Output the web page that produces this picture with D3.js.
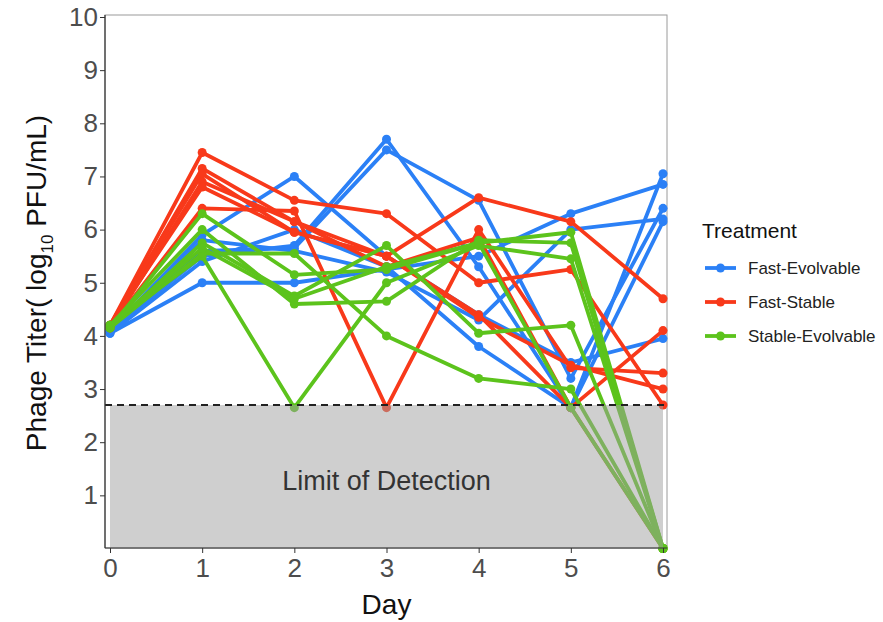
<!DOCTYPE html>
<html>
<head>
<meta charset="utf-8">
<script src="https://cdn.jsdelivr.net/npm/d3@7"></script>
<style>
  body { margin: 0; background: #fff; }
  text { font-family: "Liberation Sans", Arial, sans-serif; }
</style>
</head>
<body>
<div class="chart"></div>
<script>
// days on x axis
var days = [0, 1, 2, 3, 4, 5, 6];
var treatments = ["Fast-Evolvable", "Fast-Stable", "Stable-Evolvable"];
var colors = ["#2B80F6", "#F8391A", "#5CC31C"];

// titers per replicate (log10 PFU/mL), 0 = below detection
var fastEvolvable = [
    [4.05, 5.0, 5.0, 5.25, 5.5, 6.3, 6.85],
    [4.1, 5.9, 7.0, 5.5, 4.4, 3.5, 3.95],
    [4.1, 5.5, 5.7, 7.7, 5.3, 2.65, 7.05],
    [4.15, 5.6, 5.65, 7.5, 6.55, 3.2, 6.4],
    [4.1, 5.8, 5.6, 5.2, 4.3, 6.0, 6.2],
    [4.05, 5.4, 6.0, 5.3, 3.8, 2.65, 6.15]
];
var fastStable = [
    [4.2, 7.45, 6.55, 6.3, 5.0, 5.25, 2.7],
    [4.15, 6.4, 6.35, 2.65, 6.0, 3.4, 3.3],
    [4.2, 7.15, 6.15, 5.5, 6.6, 6.15, 4.7],
    [4.2, 7.05, 5.95, 5.5, 4.4, 2.65, 4.1],
    [4.15, 6.9, 6.15, 5.3, 5.85, 2.65, 0],
    [4.2, 6.8, 5.95, 5.5, 4.35, 3.45, 3.0]
];
var stableEvolvable = [
    [4.15, 6.3, 5.15, 5.25, 5.75, 5.95, 0],
    [4.2, 6.0, 4.6, 4.65, 5.8, 5.75, 0],
    [4.15, 5.75, 4.75, 5.7, 4.05, 4.2, 0],
    [4.2, 5.5, 2.65, 5.0, 5.7, 5.45, 0],
    [4.15, 5.55, 5.55, 4.0, 3.2, 3.0, 0],
    [4.2, 5.65, 4.7, 5.3, 5.75, 2.65, 0]
];
var yTicks = [1, 2, 3, 4, 5, 6, 7, 8, 9, 10];
var detectionLimit = 2.7;

var series = [fastEvolvable, fastStable, stableEvolvable];

var svgWidth = 883;
var svgHeight = 622;

var svg = d3.select(".chart")
    .append("svg")
    .attr("width", svgWidth)
    .attr("height", svgHeight);

//Panel bounds
var panel = { left: 105, right: 667, top: 15, bottom: 548 };

var xScale = d3.scaleLinear()
    .domain([0, 6])
    .range([110, 663]);

var yScale = d3.scaleLinear()
    .domain([0, 10])
    .range([548.5, 17]);

//Panel border
svg.append("rect")
    .attr("x", panel.left)
    .attr("y", panel.top)
    .attr("width", panel.right - panel.left)
    .attr("height", panel.bottom - panel.top)
    .attr("fill", "none")
    .attr("stroke", "#9a9a9a")
    .attr("stroke-width", 1);

//Lines and points
var line = d3.line()
    .x((d, i) => xScale(days[i]))
    .y(d => yScale(d));

var dataGroup = svg.append("g");
series.forEach(function(reps, k) {
    reps.forEach(function(vals) {
        dataGroup.append("path")
            .datum(vals)
            .attr("d", line)
            .attr("fill", "none")
            .attr("stroke", colors[k])
            .attr("stroke-width", 3.8)
            .attr("stroke-linejoin", "round");
        dataGroup.selectAll(null)
            .data(vals)
            .enter()
            .append("circle")
            .attr("cx", (d, i) => xScale(days[i]))
            .attr("cy", d => yScale(d))
            .attr("r", 4.5)
            .attr("fill", colors[k]);
    });
});

//Limit of detection shading (drawn on top, semi transparent)
svg.append("rect")
    .attr("x", xScale(0))
    .attr("y", yScale(detectionLimit))
    .attr("width", xScale(6) - xScale(0))
    .attr("height", yScale(0) - yScale(detectionLimit))
    .attr("fill", "#a0a0a0")
    .attr("opacity", 0.5);

svg.append("line")
    .attr("x1", panel.left)
    .attr("x2", panel.right)
    .attr("y1", yScale(detectionLimit))
    .attr("y2", yScale(detectionLimit))
    .attr("stroke", "#222")
    .attr("stroke-width", 2)
    .attr("stroke-dasharray", "7,5");

svg.append("text")
    .attr("x", xScale(3))
    .attr("y", 490)
    .attr("text-anchor", "middle")
    .attr("font-size", "27px")
    .attr("fill", "#333")
    .text("Limit of Detection");

//Axes
var bottomAxis = d3.axisBottom(xScale).tickValues(days).tickFormat(d3.format("d")).tickSize(5).tickSizeOuter(0);
var leftAxis = d3.axisLeft(yScale).tickValues(yTicks).tickSize(5).tickSizeOuter(0);

var xAxisG = svg.append("g")
    .attr("transform", `translate(0, ${panel.bottom})`)
    .call(bottomAxis);
xAxisG.select(".domain").attr("d", `M${panel.left},0H${panel.right}`).attr("stroke", "#333").attr("stroke-width", 1.2);
xAxisG.selectAll(".tick line").attr("stroke", "#333");
xAxisG.selectAll(".tick text")
    .attr("font-size", "26px")
    .attr("fill", "#4d4d4d")
    .attr("y", 8)
    .attr("dy", "0.8em");

var yAxisG = svg.append("g")
    .attr("transform", `translate(${panel.left}, 0)`)
    .call(leftAxis);
yAxisG.select(".domain").attr("d", `M0,${panel.top}V${panel.bottom}`).attr("stroke", "#333").attr("stroke-width", 1.2);
yAxisG.selectAll(".tick line").attr("stroke", "#333");
yAxisG.selectAll(".tick text")
    .attr("font-size", "26px")
    .attr("fill", "#4d4d4d")
    .attr("x", -7);

//Axis titles
svg.append("text")
    .attr("x", xScale(3))
    .attr("y", 614)
    .attr("text-anchor", "middle")
    .attr("font-size", "28px")
    .attr("fill", "#111")
    .text("Day");

var yTitle = svg.append("text")
    .attr("transform", "translate(46, 283) rotate(-90)")
    .attr("text-anchor", "middle")
    .attr("font-size", "28px")
    .attr("fill", "#111");
yTitle.append("tspan").text("Phage Titer( log");
yTitle.append("tspan").attr("font-size", "17px").attr("dy", 7).text("10");
yTitle.append("tspan").attr("dy", -7).text(" PFU/mL)");

//Legend
var legend = svg.append("g");
legend.append("text")
    .attr("x", 702)
    .attr("y", 238)
    .attr("font-size", "21px")
    .attr("fill", "#111")
    .text("Treatment");

treatments.forEach(function(t, i) {
    var ly = 268 + i * 34;
    legend.append("line")
        .attr("x1", 705).attr("x2", 736)
        .attr("y1", ly).attr("y2", ly)
        .attr("stroke", colors[i])
        .attr("stroke-width", 3.8);
    legend.append("circle")
        .attr("cx", 720.5).attr("cy", ly).attr("r", 4.5)
        .attr("fill", colors[i]);
    legend.append("text")
        .attr("x", 748)
        .attr("y", ly + 6)
        .attr("font-size", "17px")
        .attr("fill", "#222")
        .text(t);
});
</script>
</body>
</html>
